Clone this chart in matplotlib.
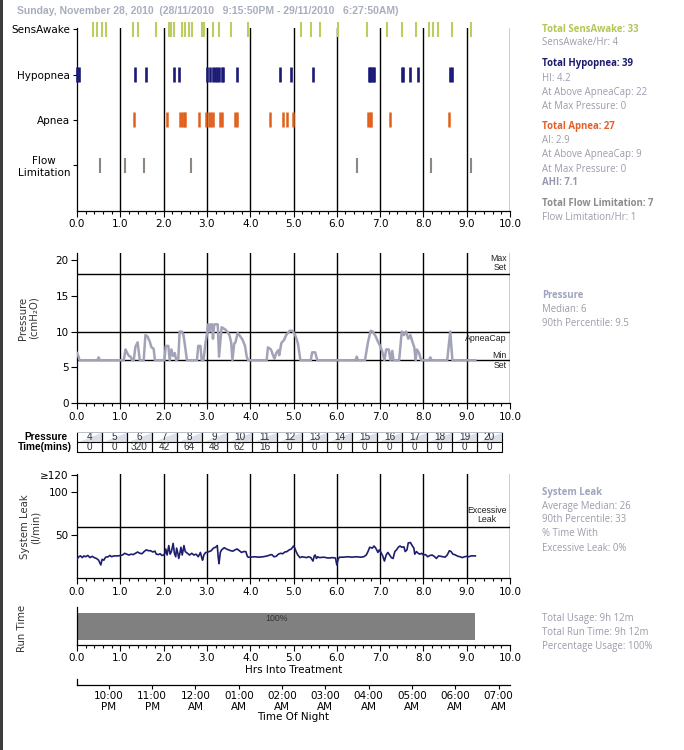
import matplotlib
matplotlib.use('Agg')
import matplotlib.pyplot as plt
from matplotlib.patches import Rectangle
import numpy as np

W, H = 684, 750


def px(l, t, r, b):
    return [l / W, 1 - b / H, (r - l) / W, (b - t) / H]


# ---------------- data ----------------
header = "Sunday, November 28, 2010  (28/11/2010   9:15:50PM - 29/11/2010   6:27:50AM)"

event_rows = ["SensAwake", "Hypopnea", "Apnea", "Flow\nLimitation"]
sensawake_hrs = [0.38, 0.46, 0.58, 0.68, 1.29, 1.40, 1.82, 2.12, 2.18, 2.24, 2.42, 2.50,
                 2.58, 2.65, 2.89, 2.94, 3.15, 3.27, 3.56, 3.95, 5.18, 5.41, 5.61, 6.02,
                 6.70, 7.17, 7.50, 7.84, 8.14, 8.22, 8.33, 8.67, 9.11]
hypopnea_hrs = [0.01, 0.04, 1.33, 1.59, 2.23, 2.36, 3.01, 3.07, 3.15, 3.19, 3.23, 3.27,
                3.34, 3.38, 3.69, 4.68, 4.95, 5.45, 6.74, 6.77, 6.80, 6.83, 6.86, 7.50,
                7.54, 7.70, 7.87, 8.61, 8.65]
apnea_hrs = [1.32, 2.08, 2.38, 2.42, 2.46, 2.50, 2.82, 2.98, 3.04, 3.09, 3.14, 3.31,
             3.36, 3.65, 3.70, 4.45, 4.75, 4.85, 4.98, 6.72, 6.76, 6.80, 7.24, 8.58]
flowlim_hrs = [0.52, 1.12, 1.55, 2.64, 6.46, 8.17, 9.09]

pressure_hrs = [0.00, 0.03, 0.06, 0.47, 0.50, 0.53, 1.08, 1.12, 1.16, 1.20, 1.24, 1.27,
                1.31, 1.35, 1.40, 1.45, 1.54, 1.58, 1.63, 1.68, 1.72, 1.77, 1.80, 2.02,
                2.05, 2.11, 2.14, 2.18, 2.22, 2.26, 2.29, 2.34, 2.37, 2.42, 2.46, 2.54,
                2.77, 2.80, 2.85, 2.88, 2.92, 2.97, 3.00, 3.03, 3.06, 3.08, 3.12, 3.14,
                3.17, 3.25, 3.28, 3.34, 3.42, 3.47, 3.52, 3.56, 3.59, 3.63, 3.66, 3.71,
                3.76, 3.82, 3.88, 3.92, 3.95, 4.38, 4.41, 4.48, 4.52, 4.56, 4.60, 4.65,
                4.67, 4.72, 4.78, 4.83, 4.91, 4.98, 5.04, 5.10, 5.16, 5.40, 5.43, 5.50,
                5.55, 6.43, 6.46, 6.49, 6.65, 6.72, 6.78, 6.83, 6.90, 6.95, 7.00, 7.05,
                7.10, 7.14, 7.20, 7.24, 7.28, 7.31, 7.44, 7.50, 7.55, 7.60, 7.65, 7.70,
                7.75, 7.79, 7.82, 7.85, 7.90, 7.95, 8.13, 8.16, 8.19, 8.55, 8.62, 8.67,
                9.20]
pressure_cmh2o = [7.0, 6.6, 6.0, 6.0, 6.4, 6.0, 6.0, 7.5, 7.0, 6.6, 6.5, 6.0,
                  6.0, 7.9, 8.5, 6.0, 6.0, 9.5, 9.3, 8.6, 7.8, 7.6, 6.0, 6.0,
                  8.0, 8.0, 6.0, 7.5, 6.6, 7.0, 6.0, 6.2, 10.0, 10.0, 9.5, 6.0,
                  6.0, 8.0, 8.0, 6.0, 6.0, 8.5, 9.6, 11.0, 10.0, 11.0, 11.0, 9.0,
                  11.0, 11.0, 6.5, 10.6, 10.3, 10.0, 9.5, 8.5, 6.0, 8.3, 8.5, 9.8,
                  9.4, 8.9, 8.0, 6.5, 6.0, 6.0, 7.8, 7.5, 6.8, 6.2, 7.0, 7.4,
                  6.7, 8.4, 8.8, 9.5, 10.1, 10.1, 9.5, 8.4, 6.0, 6.0, 7.1, 7.1,
                  6.0, 6.0, 6.5, 6.0, 6.0, 8.5, 10.1, 10.0, 9.3, 8.6, 8.0, 7.2,
                  6.0, 7.5, 7.5, 6.0, 7.3, 6.0, 6.0, 10.0, 9.5, 10.0, 9.0, 9.5,
                  8.5, 7.8, 6.0, 7.5, 7.0, 6.0, 6.0, 6.4, 6.0, 6.0, 10.0, 6.0,
                  6.0]
pressure_refs = [18, 10, 6]   # Max Set, ApneaCap, Min Set

leak_hrs = [0.00, 0.04, 0.08, 0.12, 0.16, 0.20, 0.25, 0.30, 0.35, 0.40, 0.45, 0.50, 0.55,
            0.58, 0.62, 0.66, 0.72, 0.76, 0.80, 0.85, 0.90, 0.95, 1.00, 1.05, 1.10, 1.15,
            1.20, 1.25, 1.30, 1.35, 1.40, 1.45, 1.50, 1.55, 1.60, 1.65, 1.70, 1.75, 1.80,
            1.83, 1.88, 1.92, 1.96, 2.00, 2.03, 2.05, 2.08, 2.12, 2.15, 2.18, 2.22, 2.25,
            2.28, 2.30, 2.33, 2.35, 2.38, 2.40, 2.43, 2.47, 2.50, 2.55, 2.60, 2.65, 2.70,
            2.75, 2.80, 2.85, 2.88, 2.90, 2.93, 2.97, 3.00, 3.05, 3.10, 3.15, 3.20, 3.24,
            3.26, 3.28, 3.31, 3.34, 3.40, 3.45, 3.50, 3.55, 3.60, 3.65, 3.70, 3.75, 3.80,
            3.85, 3.90, 3.93, 3.95, 4.00, 4.10, 4.20, 4.30, 4.40, 4.45, 4.50, 4.55, 4.60,
            4.65, 4.70, 4.75, 4.80, 4.85, 4.90, 4.95, 5.00, 5.03, 5.06, 5.10, 5.15, 5.20,
            5.25, 5.30, 5.35, 5.40, 5.45, 5.48, 5.50, 5.53, 5.56, 5.60, 5.70, 5.80, 5.90,
            5.97, 6.00, 6.03, 6.06, 6.15, 6.25, 6.35, 6.45, 6.55, 6.62, 6.68, 6.72, 6.76,
            6.82, 6.86, 6.90, 6.95, 6.98, 7.02, 7.06, 7.10, 7.14, 7.18, 7.22, 7.26, 7.30,
            7.34, 7.38, 7.42, 7.46, 7.50, 7.55, 7.58, 7.62, 7.65, 7.70, 7.74, 7.78, 7.80,
            7.84, 7.88, 7.92, 7.96, 8.00, 8.05, 8.10, 8.15, 8.20, 8.25, 8.30, 8.35, 8.40,
            8.45, 8.50, 8.55, 8.60, 8.64, 8.68, 8.72, 8.76, 8.80, 8.85, 8.90, 8.95, 9.00,
            9.05, 9.10, 9.15, 9.20]
leak_lpm = [22, 25, 26, 24, 26, 25, 26.5, 24, 25.5, 24, 23, 21, 15.5,
            22, 21, 24.5, 25, 26.5, 25, 26, 26, 26, 26.5, 27, 29, 28,
            27, 28, 27.5, 29, 30.5, 29, 28.5, 31, 33, 32, 32, 30.5, 31.5,
            28, 27.5, 28.5, 26.5, 27, 29, 34, 27, 38, 28, 31, 40.5, 29,
            25, 35, 29, 23, 30, 36, 27, 38, 31, 29, 27, 29, 27,
            28, 25, 30, 24, 21, 27, 30, 30, 31, 32, 35, 36, 38,
            25, 17, 30, 33, 35.5, 34, 33, 32, 31.5, 33, 34, 32, 30,
            31, 31, 26, 24.5, 24.5, 25, 24.5, 25, 26, 27, 27.5, 25, 25.5,
            28, 29, 28.5, 30.5, 31, 33, 34, 37.5, 35, 31, 27, 24, 25,
            24.5, 24, 25, 24, 20, 26, 27, 23, 25, 24, 24.5, 23.5, 24,
            23.5, 15.5, 22, 24.5, 24.5, 25, 24.5, 25, 24.5, 25, 27, 31, 36,
            35, 37.5, 35, 30, 33, 30, 26, 20, 27, 30, 27, 24, 23,
            31, 33, 36, 37.5, 36, 36.5, 31, 33, 41, 41.5, 38, 35, 28,
            31, 29, 28, 29, 27, 27.5, 25, 26.5, 27, 25.5, 23, 26, 25.5,
            25, 24.5, 27, 32, 31, 28, 27.5, 26.5, 25.5, 25, 24, 25, 25.5,
            25, 26, 26, 26]
excessive_leak = 60

table_pressure = [4, 5, 6, 7, 8, 9, 10, 11, 12, 13, 14, 15, 16, 17, 18, 19, 20]
table_minutes = [0, 0, 320, 42, 64, 48, 62, 16, 0, 0, 0, 0, 0, 0, 0, 0, 0]

run_hours = 9.2
run_pct_label = "100%"

hour_ticks = list(range(0, 11))
hour_labels = ["0.0", "1.0", "2.0", "3.0", "4.0", "5.0", "6.0", "7.0", "8.0", "9.0", "10.0"]
night_labels = ["10:00\nPM", "11:00\nPM", "12:00\nAM", "01:00\nAM", "02:00\nAM",
                "03:00\nAM", "04:00\nAM", "05:00\nAM", "06:00\nAM", "07:00\nAM"]
first_full_hour = 44.17 / 60.0   # 10:00 PM relative to start 9:15:50 PM

side_text = [
    # (y px, text, color, bold)
    (29, "Total SensAwake: 33", "#B2C65A", True),
    (42.7, "SensAwake/Hr: 4", "#9C9CAC", False),
    (63.3, "Total Hypopnea: 39", "#1C1C6A", True),
    (78.3, "HI: 4.2", "#9C9CAC", False),
    (92.7, "At Above ApneaCap: 22", "#9C9CAC", False),
    (106.7, "At Max Pressure: 0", "#9C9CAC", False),
    (126.7, "Total Apnea: 27", "#E2602A", True),
    (140.7, "AI: 2.9", "#9C9CAC", False),
    (155, "At Above ApneaCap: 9", "#9C9CAC", False),
    (169, "At Max Pressure: 0", "#9C9CAC", False),
    (182.7, "AHI: 7.1", "#9898B0", True),
    (204, "Total Flow Limitation: 7", "#8C8C8C", True),
    (217.7, "Flow Limitation/Hr: 1", "#9C9CAC", False),
    (295.7, "Pressure", "#A0A4BC", True),
    (309.3, "Median: 6", "#9C9CAC", False),
    (323.3, "90th Percentile: 9.5", "#9C9CAC", False),
    (492.3, "System Leak", "#A0A4BC", True),
    (506, "Average Median: 26", "#9C9CAC", False),
    (520, "90th Percentile: 33", "#9C9CAC", False),
    (534, "% Time With", "#9C9CAC", False),
    (548.3, "Excessive Leak: 0%", "#9C9CAC", False),
    (619, "Total Usage: 9h 12m", "#9C9CAC", False),
    (632.7, "Total Run Time: 9h 12m", "#9C9CAC", False),
    (646.7, "Percentage Usage: 100%", "#9C9CAC", False),
]

# ---------------- figure ----------------
plt.rcParams['font.family'] = ['DejaVu Sans']
fig = plt.figure(figsize=(W / 100, H / 100), dpi=100)
fig.patch.set_facecolor('white')
fig.add_artist(Rectangle((0, 0), 3 / W, 1, transform=fig.transFigure,
                         color='#3c3c3c', lw=0))

TICK_FS = 7.5
LINE_LW = 1.0


def style_hours(ax, grid=True):
    ax.set_xlim(0, 10)
    ax.set_xticks(hour_ticks)
    ax.set_xticklabels(hour_labels)
    ax.set_xticks(np.arange(0, 10.001, 0.2), minor=True)
    ax.tick_params(axis='x', which='major', direction='out', length=4, width=0.8,
                   labelsize=TICK_FS, pad=2)
    ax.tick_params(axis='x', which='minor', direction='out', length=2.5, width=0.8)
    for s in ['top', 'right']:
        ax.spines[s].set_visible(False)
    for s in ['left', 'bottom']:
        ax.spines[s].set_linewidth(0.9)
    if grid:
        for h in hour_ticks[1:]:
            ax.axvline(h, color='black', lw=LINE_LW, zorder=1)


fig.text(17 / W, 1 - 11.5 / H, header, ha='left', va='center', fontsize=7.5,
         weight='bold', color='#A9AEBE', family='Liberation Sans')

# ---- events panel ----
ax_ev = fig.add_axes(px(77, 28.3, 510, 210.7))
style_hours(ax_ev)
ax_ev.set_ylim(0, 4.02)
row_y = [4, 3, 2, 1]
ev_sets = [sensawake_hrs, hypopnea_hrs, apnea_hrs, flowlim_hrs]
ev_cols = ['#BFCC62', '#1A1A78', '#E0601C', '#8E8680']
ev_lw = [1.5, 1.9, 1.8, 1.5]
hh = 0.165
for y, hrs, c, lw in zip(row_y, ev_sets, ev_cols, ev_lw):
    ax_ev.vlines(hrs, y - hh, y + hh, color=c, lw=lw, zorder=3, clip_on=False)
ax_ev.set_yticks(row_y)
ax_ev.set_yticklabels(event_rows)
ax_ev.tick_params(axis='y', length=3, width=0.8, labelsize=TICK_FS, pad=2)
for lab in ax_ev.get_yticklabels():
    lab.set_multialignment('center')

# ---- pressure panel ----
ax_p = fig.add_axes(px(77, 253.3, 510, 403.3))
style_hours(ax_p)
ax_p.set_ylim(0, 20.9)
ax_p.set_yticks([0, 5, 10, 15, 20])
ax_p.tick_params(axis='y', direction='out', length=4, width=0.8, labelsize=TICK_FS, pad=2)
for r in pressure_refs:
    ax_p.axhline(r, color='black', lw=LINE_LW, zorder=1)
ax_p.plot(pressure_hrs, pressure_cmh2o, color='#A3A3B8', lw=1.8, zorder=3,
          solid_joinstyle='round')
small = dict(fontsize=6.3, family='Liberation Sans', color='#222222', ha='right')
ax_p.text(9.92, 18.25, "Max\nSet", va='bottom', linespacing=1.05, **small)
ax_p.text(9.92, 9.0, "ApneaCap", va='center', **small)
ax_p.text(9.92, 6.65, "Min", va='center', **small)
ax_p.text(9.92, 5.2, "Set", va='center', **small)
fig.text(28 / W, 1 - 318 / H, "Pressure\n(cmH\u2082O)", rotation=90, ha='center',
         va='center', fontsize=7.3, color='#333333', linespacing=1.1)

# ---- pressure/time table ----
ax_t = fig.add_axes(px(77, 432, 502, 452))
ax_t.axis('off')
tab = ax_t.table(cellText=[[str(v) for v in table_pressure],
                           [str(v) for v in table_minutes]],
                 cellLoc='center', bbox=[0, 0, 1, 1])
tab.auto_set_font_size(False)
for (r, c), cell in tab.get_celld().items():
    cell.set_linewidth(0.8)
    cell.set_edgecolor('black')
    cell.visible_edges = 'BLR'
    cell.get_text().set_fontsize(7.2)
    cell.get_text().set_family('Liberation Sans')
    cell.get_text().set_color('#333333')
    if r == 0:
        cell.set_facecolor('#DADFE8')
    else:
        cell.set_facecolor('white')
ax_t.plot([0, 1], [1, 1], color='#B8BCC8', lw=0.7, transform=ax_t.transAxes,
          clip_on=False)
fig.text(46 / W, 1 - 437 / H, "Pressure", ha='center', va='center', fontsize=7.3,
         weight='bold', family='Liberation Sans')
fig.text(45 / W, 1 - 447 / H, "Time(mins)", ha='center', va='center', fontsize=7.3,
         weight='bold', family='Liberation Sans')

# ---- leak panel ----
ax_l = fig.add_axes(px(77, 474, 510, 578.3))
style_hours(ax_l)
ax_l.set_ylim(0, 121)
ax_l.set_yticks([50, 100, 120])
ax_l.set_yticklabels(["50", "100", "\u2265120"])
ax_l.tick_params(axis='y', direction='out', length=4, width=0.8, labelsize=TICK_FS, pad=2)
ax_l.axhline(excessive_leak, color='black', lw=LINE_LW, zorder=1)
ax_l.plot(leak_hrs, leak_lpm, color='#1E1E70', lw=1.2, zorder=3)
ax_l.text(9.92, 73.5, "Excessive\nLeak", va='center', multialignment='center',
          linespacing=1.05, **small)
fig.text(30 / W, 1 - 527 / H, "System Leak\n(l/min)", rotation=90, ha='center',
         va='center', fontsize=7.3, color='#333333', linespacing=1.1)

# ---- run time panel ----
ax_r = fig.add_axes(px(77, 606.7, 510, 645))
style_hours(ax_r, grid=False)
ax_r.set_ylim(0, 1)
ax_r.set_yticks([])
ax_r.barh(0.487, run_hours, height=0.713, left=0, color='#808080', zorder=2)
ax_r.text(run_hours / 2, 0.82, run_pct_label, ha='center', va='top', fontsize=6.3,
          family='Liberation Sans', color='#333333', zorder=3)
ax_r.set_xlabel("Hrs Into Treatment", fontsize=TICK_FS, labelpad=1.5)
fig.text(22 / W, 1 - 628 / H, "Run Time", rotation=90, ha='center', va='center',
         fontsize=7.3, color='#333333')

# ---- time of night axis ----
ax_n = fig.add_axes(px(77, 679, 510, 684.5))
ax_n.set_xlim(0, 10)
ax_n.set_ylim(0, 1)
ax_n.set_yticks([])
ax_n.set_xticks([first_full_hour + k for k in range(len(night_labels))])
ax_n.set_xticklabels(night_labels, linespacing=1.1)
ax_n.tick_params(axis='x', direction='out', length=3, width=0.8, labelsize=TICK_FS, pad=1.5)
for s in ['top', 'right']:
    ax_n.spines[s].set_visible(False)
for s in ['left', 'bottom']:
    ax_n.spines[s].set_linewidth(0.9)
ax_n.set_xlabel("Time Of Night", fontsize=TICK_FS, labelpad=0.5)

# ---- side summary text ----
for y, txt, col, bold in side_text:
    fig.text(542 / W, 1 - y / H, txt, ha='left', va='center', fontsize=6.9,
             color=col, weight='bold' if bold else 'normal', family='Open Sans')

fig.savefig('out.png', dpi=100)
